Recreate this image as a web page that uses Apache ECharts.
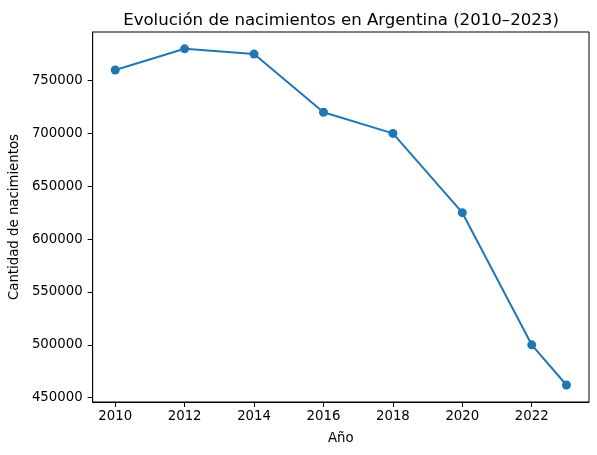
<!DOCTYPE html>
<html>
<head>
<meta charset="utf-8">
<script src="https://cdn.jsdelivr.net/npm/echarts@6/dist/echarts.min.js"></script>
<style>
    html, body { margin: 0; padding: 0; background: #fff; }
    #main_chart { width: 597px; height: 455px; }
</style>
</head>
<body>
<div id="main_chart"></div>
<script>
// data
const years = [2010, 2012, 2014, 2016, 2018, 2020, 2022, 2023];
const births = [760000, 780000, 775000, 720000, 700000, 625000, 500000, 462000];
const xTicks = [2010, 2012, 2014, 2016, 2018, 2020, 2022];
const yTicks = [450000, 500000, 550000, 600000, 650000, 700000, 750000];

let font = 'DejaVu Sans';
let myChart = echarts.init(document.getElementById('main_chart'), null, {renderer: 'canvas'});

let option = {
    animation: false,
    textStyle: {fontFamily: font},
    title: {
        text: 'Evolución de nacimientos en Argentina (2010–2023)',
        left: 336,
        top: 7,
        textAlign: 'center',
        textStyle: {fontFamily: font, fontWeight: 'normal', fontSize: 16.6, color: '#000'}
    },
    grid: {
        left: 92, right: 8, top: 32, bottom: 53,
        show: true,
        borderColor: '#000',
        borderWidth: 1
    },
    xAxis: {
        type: 'value',
        min: 2009.35,
        max: 2023.65,
        name: 'Año',
        nameLocation: 'middle',
        nameGap: 30,
        nameTextStyle: {fontFamily: font, fontSize: 13.3, color: '#000'},
        splitLine: {show: false},
        axisLine: {show: true, lineStyle: {color: '#000', width: 1}},
        axisTick: {show: true, length: 5, lineStyle: {color: '#000'}, customValues: xTicks},
        axisLabel: {
            color: '#000', fontSize: 13.3, margin: 8, fontFamily: font,
            customValues: xTicks,
            formatter: v => String(v)
        }
    },
    yAxis: {
        type: 'value',
        min: 445900,
        max: 795900,
        name: 'Cantidad de nacimientos',
        nameLocation: 'middle',
        nameGap: 63,
        nameTextStyle: {fontFamily: font, fontSize: 13.3, color: '#000'},
        splitLine: {show: false},
        axisLine: {show: true, lineStyle: {color: '#000', width: 1}},
        axisTick: {show: true, length: 5, lineStyle: {color: '#000'}, customValues: yTicks},
        axisLabel: {
            color: '#000', fontSize: 13.3, margin: 10, fontFamily: font,
            customValues: yTicks,
            formatter: v => String(v)
        }
    },
    series: [{
        type: 'line',
        data: years.map((y, i) => [y, births[i]]),
        symbol: 'circle',
        symbolSize: 9,
        itemStyle: {color: '#1f77b4'},
        lineStyle: {color: '#1f77b4', width: 2}
    }]
};

myChart.setOption(option);
</script>
</body>
</html>
